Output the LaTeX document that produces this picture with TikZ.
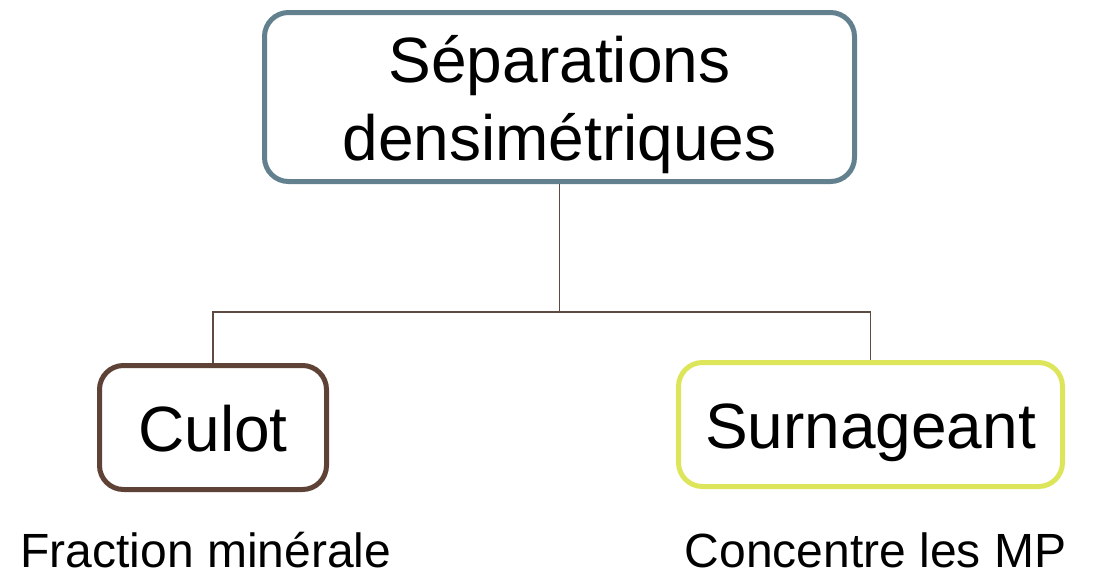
\documentclass[tikz,border=0pt]{standalone}
\usepackage{fontspec}
\setmainfont{Liberation Sans}
\usetikzlibrary{positioning}
\definecolor{SSlate}{HTML}{62808E}
\definecolor{SBrown}{HTML}{5E4236}
\definecolor{SLime}{HTML}{DDE65A}
\definecolor{SLink}{HTML}{5E4A40}

\begin{document}
\begin{tikzpicture}[
  x=0.5pt,y=-0.5pt,
  every node/.style={font=\fontsize{32}{39}\selectfont},
  head/.style={draw=SSlate,line width=2.5pt,rounded corners=12pt,fill=white,
    minimum width=295pt,minimum height=84.5pt,align=center,inner sep=0pt,
    text height=63pt,text depth=0pt},
  part/.style={line width=2.5pt,rounded corners=12pt,fill=white,
    minimum height=62pt,inner sep=0pt,text height=24pt,text depth=0pt},
  note/.style={font=\fontsize{24}{28}\selectfont,anchor=base,
    inner sep=0pt,text depth=0pt},
  link/.style={draw=SLink,line width=0.75pt}
]
  \useasboundingbox (0,0) rectangle (1094,575);
  \node[head] (sep) at (559.5,97) {Séparations\\densimétriques};
  \node[part,draw=SBrown,minimum width=113.5pt] (culot) at (213,427.5) {Culot};
  \node[part,draw=SLime,minimum width=192pt] (surn) at (870.5,424.5) {Surnageant};
  \coordinate (junc) at (559.5,312);
  \draw[link] (sep.south) -- (junc);
  \foreach \x in {culot,surn}
    {\draw[link] (junc) -| (\x.north);}
  \node[note] (frac) at (206,567) {Fraction minérale};
  \node[note] (conc) at (875.5,567) {Concentre les MP};
\end{tikzpicture}
\end{document}
